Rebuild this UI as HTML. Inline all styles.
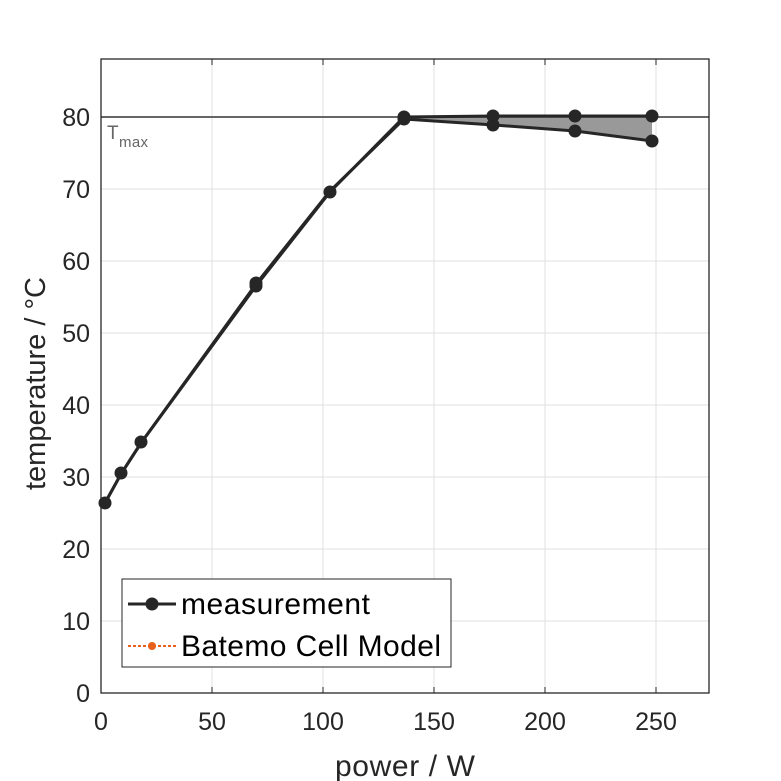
<!DOCTYPE html>
<html><head><style>
body{margin:0;background:#fff;}
svg{display:block;font-family:"Liberation Sans",sans-serif;}
</style></head><body>
<svg width="781" height="781" viewBox="0 0 781 781">
<rect width="781" height="781" fill="#fff"/>
<g stroke="#e0e0e0" stroke-width="1">
<line x1="212" y1="59" x2="212" y2="693"/><line x1="323" y1="59" x2="323" y2="693"/>
<line x1="434" y1="59" x2="434" y2="693"/><line x1="545" y1="59" x2="545" y2="693"/>
<line x1="656" y1="59" x2="656" y2="693"/>
<line x1="101" y1="621" x2="709" y2="621"/><line x1="101" y1="549" x2="709" y2="549"/>
<line x1="101" y1="477" x2="709" y2="477"/><line x1="101" y1="405" x2="709" y2="405"/>
<line x1="101" y1="333" x2="709" y2="333"/><line x1="101" y1="261" x2="709" y2="261"/>
<line x1="101" y1="189" x2="709" y2="189"/><line x1="101" y1="117" x2="709" y2="117"/>
</g>
<polygon points="403,117 494,117 575,117 652,117 652,141 575,131 494,125 403,119" fill="#999"/>
<line x1="101" y1="117" x2="709" y2="117" stroke="#666" stroke-width="2"/>
<text x="107" y="139" font-size="19" fill="#666">T</text><text x="119" y="147" font-size="15" fill="#666" textLength="29">max</text>
<g fill="none" stroke="#262626" stroke-width="3">
<polyline points="105,503 121,474 141,443 256,286 330,192 404,117 494,116 575,116 652,116"/>
<polyline points="105,503 121,474 141,443 256,284 330,191 404,119 494,125 575,131 652,141"/>
</g>
<g fill="#262626">
<circle cx="105" cy="503" r="6.5"/><circle cx="121" cy="473" r="6.5"/><circle cx="141" cy="442" r="6.5"/>
<circle cx="256" cy="286" r="6.5"/><circle cx="256" cy="283" r="6.5"/><circle cx="330" cy="192" r="6.5"/>
<circle cx="404" cy="117" r="6.5"/><circle cx="404" cy="119" r="6.5"/>
<circle cx="493" cy="116" r="6.5"/><circle cx="575" cy="116" r="6.5"/><circle cx="652" cy="116" r="6.5"/>
<circle cx="493" cy="125" r="6.5"/><circle cx="575" cy="131" r="6.5"/><circle cx="652" cy="141" r="6.5"/>
</g>
<rect x="101" y="59" width="608" height="634" fill="none" stroke="#262626" stroke-width="1.3"/>
<g stroke="#262626" stroke-width="1">
<line x1="212" y1="693" x2="212" y2="687"/><line x1="323" y1="693" x2="323" y2="687"/><line x1="434" y1="693" x2="434" y2="687"/><line x1="545" y1="693" x2="545" y2="687"/><line x1="656" y1="693" x2="656" y2="687"/>
<line x1="212" y1="59" x2="212" y2="65"/><line x1="323" y1="59" x2="323" y2="65"/><line x1="434" y1="59" x2="434" y2="65"/><line x1="545" y1="59" x2="545" y2="65"/><line x1="656" y1="59" x2="656" y2="65"/>
</g>
<g font-size="25" fill="#262626" text-anchor="middle">
<text x="101" y="730">0</text><text x="212" y="730">50</text><text x="323" y="730">100</text><text x="434" y="730">150</text><text x="545" y="730">200</text><text x="656" y="730">250</text>
</g>
<g font-size="25" fill="#262626" text-anchor="end">
<text x="90" y="702">0</text><text x="90" y="630">10</text><text x="90" y="558">20</text><text x="90" y="486">30</text><text x="90" y="414">40</text><text x="90" y="342">50</text><text x="90" y="270">60</text><text x="90" y="198">70</text><text x="90" y="126">80</text>
</g>
<text x="335" y="776" font-size="30" fill="#262626" textLength="140">power / W</text>
<text transform="translate(45,490) rotate(-90)" font-size="29" fill="#262626" textLength="213">temperature / °C</text>
<rect x="122" y="579" width="329" height="88" fill="#fff" stroke="#262626" stroke-width="1"/>
<line x1="128" y1="604" x2="176" y2="604" stroke="#262626" stroke-width="3"/>
<circle cx="152" cy="604" r="6.5" fill="#262626"/>
<text x="181" y="614" font-size="30" fill="#000" textLength="189">measurement</text>
<line x1="128" y1="646" x2="176" y2="646" stroke="#e8601c" stroke-width="2" stroke-dasharray="3,2"/>
<circle cx="152" cy="646" r="4" fill="#e8601c"/>
<text x="181" y="656" font-size="30" fill="#000" textLength="260">Batemo Cell Model</text>
</svg>
</body></html>
